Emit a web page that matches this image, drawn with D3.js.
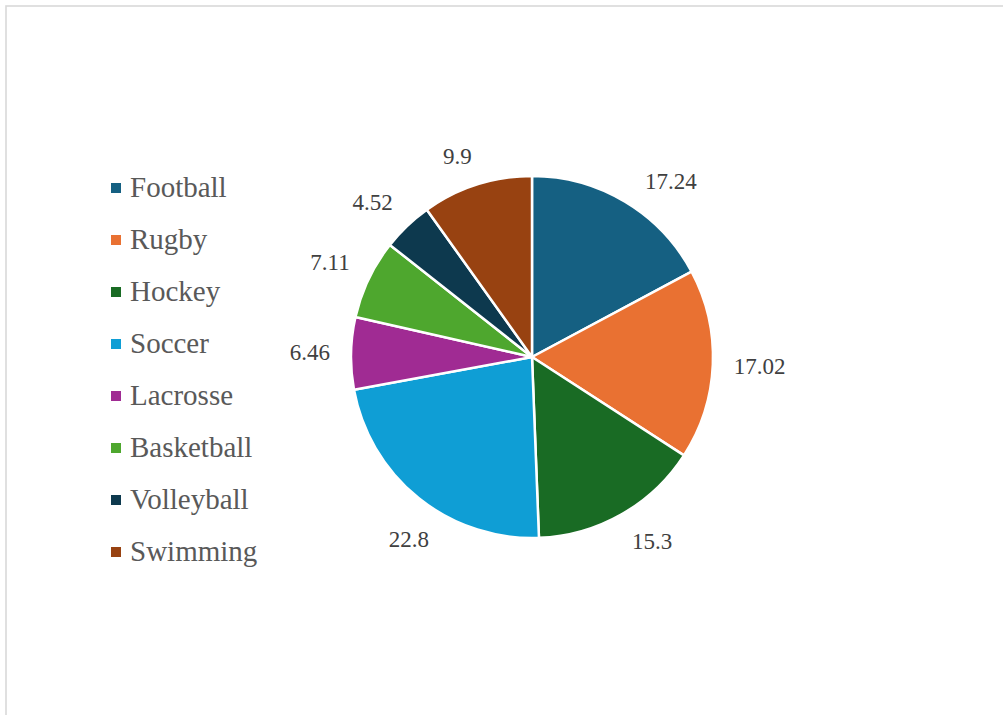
<!DOCTYPE html>
<html>
<head>
<meta charset="utf-8">
<script src="https://cdn.jsdelivr.net/npm/d3@7"></script>
<style>
  html, body { margin: 0; padding: 0; background: #fff; }
  svg { display: block; }
</style>
</head>
<body>
<svg id="chart" width="1003" height="715"></svg>
<script>
// Share of participants by sport
const sports = ["Football", "Rugby", "Hockey", "Soccer", "Lacrosse", "Basketball", "Volleyball", "Swimming"];
const shares = [17.24, 17.02, 15.3, 22.8, 6.46, 7.11, 4.52, 9.9];
const sliceColors = ["#156082", "#E97132", "#196B24", "#0F9ED5", "#A02B93", "#4EA72E", "#0D394E", "#984211"];

const svg = d3.select("#chart");
const W = 1003, H = 715;

// chart frame (only top and left edges fall inside the view)
svg.append("rect")
  .attr("x", 6).attr("y", 6)
  .attr("width", W + 20).attr("height", H + 20)
  .attr("fill", "#fff")
  .attr("stroke", "#d9d9d9").attr("stroke-width", 1.6);

const cx = 532, cy = 357, radius = 181;

const data = sports.map((s, i) => ({ sport: s, value: shares[i], color: sliceColors[i] }));

const pie = d3.pie().value(d => d.value).sort(null);
const arc = d3.arc().innerRadius(0).outerRadius(radius);
const arcs = pie(data);

const g = svg.append("g").attr("transform", `translate(${cx},${cy})`);

g.selectAll("path.slice")
  .data(arcs)
  .join("path")
  .attr("class", "slice")
  .attr("d", arc)
  .attr("fill", d => d.data.color)
  .attr("stroke", "#ffffff")
  .attr("stroke-width", 2.5)
  .attr("stroke-linejoin", "round");

// value labels: the label box's inner corner sits on a ring just outside the pie
const labelFont = "'Liberation Serif', 'Times New Roman', serif";
const labelRing = radius + 21;
const angleNudge = { Football: 3, Soccer: -8 }; // degrees, labels slid along the ring
const clamp1 = v => Math.max(-1, Math.min(1, v));

const labels = g.selectAll("text.val")
  .data(arcs)
  .join("text")
  .attr("class", "val")
  .attr("font-family", labelFont)
  .attr("font-size", 23)
  .attr("fill", "#404040")
  .attr("text-anchor", "middle")
  .text(d => d.data.value);

labels.each(function(d) {
  const bb = this.getBBox();
  const w = bb.width, h = 17;
  const a = (d.startAngle + d.endAngle) / 2 + (angleNudge[d.data.sport] || 0) * Math.PI / 180;
  const sx = Math.sin(a), sy = -Math.cos(a);
  const x = sx * labelRing + clamp1(sx * 3) * w / 2;
  const y = sy * labelRing + clamp1(sy * 3) * h / 2;
  d3.select(this).attr("x", x).attr("y", y + 8);
});

// legend
const legendX = 111, legendY0 = 197, legendStep = 52;
const legend = svg.append("g");
const rows = legend.selectAll("g")
  .data(data)
  .join("g")
  .attr("transform", (d, i) => `translate(${legendX},${legendY0 + i * legendStep})`);

rows.append("rect")
  .attr("x", 0).attr("y", -14)
  .attr("width", 10).attr("height", 10)
  .attr("fill", d => d.color);

rows.append("text")
  .attr("x", 19).attr("y", 0)
  .attr("font-family", labelFont)
  .attr("font-size", 29)
  .attr("fill", "#595959")
  .text(d => d.sport);
</script>
</body>
</html>
